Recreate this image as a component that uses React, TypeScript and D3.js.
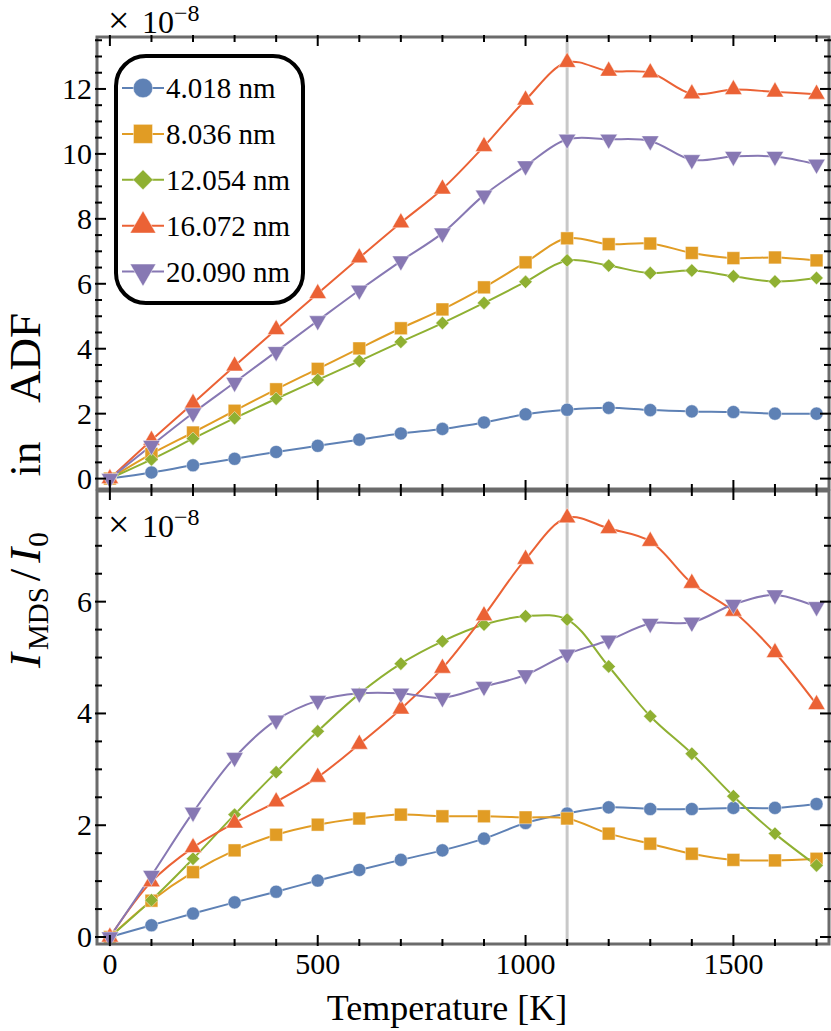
import React from "react";
import * as d3 from "d3";

// temperatures in K
const temperatures = [0, 100, 200, 300, 400, 500, 600, 700, 800, 900, 1000, 1100, 1200, 1300, 1400, 1500, 1600, 1700];

const seriesNames = ["4.018 nm", "8.036 nm", "12.054 nm", "16.072 nm", "20.090 nm"];
const seriesColors = ["#5e81b5", "#e19c24", "#8fb032", "#eb6235", "#8778b3"];
const seriesMarkers = ["circle", "square", "diamond", "triangle", "triangleDown"];

// upper panel (x 1e-8)
const adf4 = [0, 0.19, 0.41, 0.61, 0.82, 1.01, 1.2, 1.39, 1.53, 1.73, 1.98, 2.12, 2.18, 2.11, 2.07, 2.05, 2.0, 2.0];
const adf8 = [0, 0.76, 1.42, 2.09, 2.75, 3.38, 4.01, 4.63, 5.21, 5.89, 6.66, 7.4, 7.22, 7.24, 6.95, 6.79, 6.81, 6.72];
const adf12 = [0, 0.59, 1.23, 1.86, 2.46, 3.04, 3.62, 4.21, 4.79, 5.41, 6.06, 6.72, 6.56, 6.33, 6.41, 6.23, 6.07, 6.18];
const adf16 = [0, 1.18, 2.32, 3.47, 4.59, 5.7, 6.8, 7.88, 8.92, 10.23, 11.66, 12.82, 12.55, 12.5, 11.85, 11.98, 11.91, 11.84];
const adf20 = [0, 1.02, 2.02, 2.96, 3.91, 4.86, 5.8, 6.7, 7.56, 8.73, 9.63, 10.45, 10.45, 10.4, 9.82, 9.92, 9.92, 9.68];

// lower panel (x 1e-8)
const mds4 = [0, 0.21, 0.42, 0.62, 0.81, 1.01, 1.2, 1.38, 1.55, 1.76, 2.04, 2.21, 2.32, 2.29, 2.29, 2.31, 2.31, 2.38];
const mds8 = [0, 0.65, 1.16, 1.55, 1.83, 2.01, 2.12, 2.19, 2.16, 2.16, 2.14, 2.12, 1.85, 1.67, 1.49, 1.38, 1.37, 1.4];
const mds12 = [0, 0.66, 1.4, 2.19, 2.95, 3.68, 4.35, 4.89, 5.29, 5.59, 5.74, 5.68, 4.84, 3.95, 3.28, 2.52, 1.85, 1.28];
const mds16 = [0, 0.99, 1.6, 2.04, 2.42, 2.86, 3.45, 4.08, 4.81, 5.75, 6.76, 7.5, 7.31, 7.08, 6.33, 5.83, 5.09, 4.16];
const mds20 = [0, 1.1, 2.23, 3.21, 3.88, 4.23, 4.36, 4.36, 4.28, 4.48, 4.69, 5.06, 5.31, 5.61, 5.63, 5.95, 6.12, 5.91];

const xTickLabels = [0, 500, 1000, 1500];
const topYTicks = [0, 2, 4, 6, 8, 10, 12];
const bottomYTicks = [0, 2, 4, 6];
const highlightTemp = 1100;

const FONT = "Liberation Serif, Times New Roman, Times, DejaVu Serif, Noto Serif, serif";
const serif = { fontFamily: FONT };
const LEFT = 97;
const RIGHT = 829;
const x = d3.scaleLinear().domain([-31, 1730]).range([LEFT, RIGHT]);

function markerPath(kind: string, k: number) {
  const types: Record<string, d3.SymbolType> = {
    circle: d3.symbolCircle,
    square: d3.symbolSquare,
    diamond: d3.symbolDiamond2,
    triangle: d3.symbolTriangle,
    triangleDown: d3.symbolTriangle,
  };
  const sizes: Record<string, number> = {
    circle: 135, square: 165, diamond: 115, triangle: 130, triangleDown: 130,
  };
  return d3.symbol(types[kind], sizes[kind] * k)() as string;
}

function Marker({ kind, color, cx, cy, k = 1 }: any) {
  const rot = kind === "triangleDown" ? " rotate(180)" : "";
  return (
    <path
      d={markerPath(kind, k)}
      transform={`translate(${cx},${cy})${rot}`}
      fill={color}
      stroke="#ffffff"
      strokeOpacity={0.45}
      strokeWidth={1}
    />
  );
}

function Panel({ series, yDomain, yTicks, top, bottom, exponentY, showXLabels }: any) {
  const y = d3.scaleLinear().domain(yDomain).range([bottom, top]);
  const line = d3
    .line<number>()
    .x((_, i) => x(temperatures[i]))
    .y((d) => y(d))
    .curve(d3.curveCatmullRom.alpha(0.5));

  const xMinor = d3.range(0, 1701, 100);
  const yMinor = d3.range(0, yDomain[1], 0.5);

  return (
    <g>
      {/* data lines */}
      {series.map((vals: number[], s: number) => (
        <path key={"l" + s} d={line(vals) as string} fill="none" stroke={seriesColors[s]} strokeWidth={2} />
      ))}
      {series.map((vals: number[], s: number) =>
        vals.map((v, i) => (
          <Marker key={`m${s}-${i}`} kind={seriesMarkers[s]} color={seriesColors[s]} cx={x(temperatures[i])} cy={y(v)} />
        ))
      )}

      {/* frame */}
      <rect x={LEFT} y={top} width={RIGHT - LEFT} height={bottom - top} fill="none" stroke="#6b6b6b" strokeWidth={3} />

      {/* x ticks */}
      {xMinor.map((t) => {
        const len = t % 500 === 0 ? 9 : 5;
        return (
          <g key={"xt" + t}>
            <line x1={x(t)} x2={x(t)} y1={bottom + 2} y2={bottom - len} stroke="#000" strokeWidth={2} />
            <line x1={x(t)} x2={x(t)} y1={top - 2} y2={top + len} stroke="#000" strokeWidth={2} />
          </g>
        );
      })}

      {/* y ticks */}
      {yMinor.map((t) => {
        const len = t % 2 === 0 ? 9 : 5;
        return (
          <g key={"yt" + t}>
            <line x1={LEFT - 2} x2={LEFT + len} y1={y(t)} y2={y(t)} stroke="#000" strokeWidth={2} />
            <line x1={RIGHT + 2} x2={RIGHT - len} y1={y(t)} y2={y(t)} stroke="#000" strokeWidth={2} />
          </g>
        );
      })}

      {yTicks.map((t: number) => (
        <text key={"yl" + t} x={92} y={y(t)} dy="0.33em" textAnchor="end" fontSize={30} style={serif}>
          {t}
        </text>
      ))}

      {showXLabels &&
        xTickLabels.map((t) => (
          <text key={"xl" + t} x={x(t)} y={974} textAnchor="middle" fontSize={30} style={serif}>
            {t}
          </text>
        ))}

      <text x={108} y={exponentY} fontSize={32} style={serif}>
        <tspan fontSize={38}>×</tspan>
        <tspan x={142}>10</tspan>
        <tspan dy={-12} fontSize={24}>−8</tspan>
      </text>
    </g>
  );
}

function Legend() {
  const rowY = d3.scaleLinear().domain([0, 4]).range([88, 271.5]);
  return (
    <g>
      <rect x={116} y={56} width={187} height={247} rx={30} fill="#fff" stroke="#000" strokeWidth={4} />
      {seriesNames.map((name, s) => (
        <g key={name}>
          <line x1={122} x2={164} y1={rowY(s)} y2={rowY(s)} stroke={seriesColors[s]} strokeWidth={2} />
          <Marker kind={seriesMarkers[s]} color={seriesColors[s]} cx={143} cy={rowY(s)} k={2.2} />
          <text x={166} y={rowY(s) + 10} fontSize={29} style={serif}>
            {name}
          </text>
        </g>
      ))}
    </g>
  );
}

export default function App() {
  const TOP1 = 37;
  const BOT1 = 489;
  const TOP2 = 491;
  const BOT2 = 944;
  return (
    <svg width={831} height={1031} style={{ position: "absolute", left: 0, top: 0, background: "#fff" }}>
      <rect width={831} height={1031} fill="#fff" />
      <line x1={x(highlightTemp)} x2={x(highlightTemp)} y1={TOP1} y2={BOT2} stroke="#c8c8c8" strokeWidth={3} />
      <Panel
        series={[adf4, adf8, adf12, adf16, adf20]}
        yDomain={[-0.32, 13.6]}
        yTicks={topYTicks}
        top={TOP1}
        bottom={BOT1}
        exponentY={33}
        showXLabels={false}
      />
      <Legend />
      <Panel
        series={[mds4, mds8, mds12, mds16, mds20]}
        yDomain={[-0.125, 7.98]}
        yTicks={bottomYTicks}
        top={TOP2}
        bottom={BOT2}
        exponentY={537}
        showXLabels={true}
      />

      <text x={447} y={1020} textAnchor="middle" fontSize={36} style={serif}>
        Temperature [K]
      </text>

      <g transform="translate(40,0) rotate(-90)" fontSize={45} style={serif}>
        <text x={-668} y={0}>
          <tspan fontStyle="italic">I</tspan>
          <tspan dx={3} dy={8} fontSize={29}>MDS</tspan>
          <tspan dx={6} dy={-8}>/</tspan>
          <tspan dx={6} fontStyle="italic">I</tspan>
          <tspan dx={1} dy={8} fontSize={29}>0</tspan>
        </text>
        <text x={-459} y={0} textAnchor="middle">in</text>
        <text x={-358} y={0} textAnchor="middle">ADF</text>
      </g>
    </svg>
  );
}
